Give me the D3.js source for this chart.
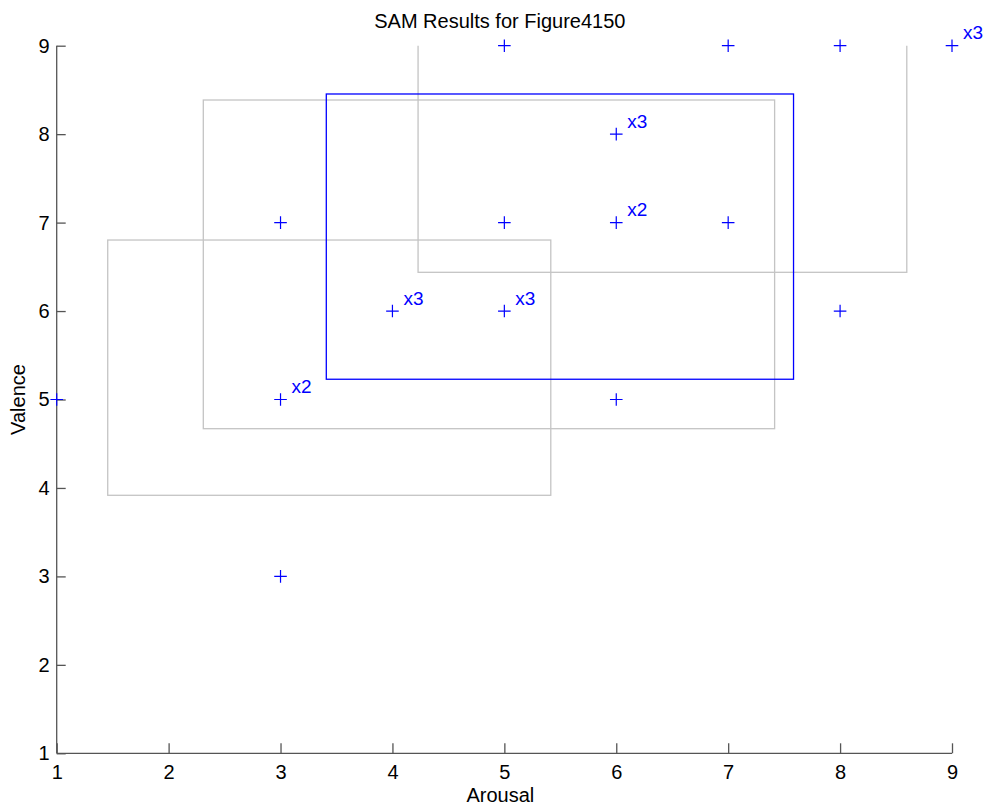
<!DOCTYPE html>
<html><head><meta charset="utf-8">
<script src="https://cdn.jsdelivr.net/npm/d3@7"></script>
<style>body{margin:0;background:#fff}svg{display:block}text{font-family:"Liberation Sans",Arial,sans-serif}</style>
</head><body>
<script>
const title = "SAM Results for Figure4150";
const xLabel = "Arousal";
const yLabel = "Valence";
const ticks = [1,2,3,4,5,6,7,8,9];
// points: arousal, valence, count
const ptArousal = [1,3,3,3,4,5,5,5,6,6,6,7,7,8,8,9];
const ptValence = [5,7,5,3,6,9,7,6,8,7,5,9,7,9,6,9];
const ptCount   = [1,1,2,1,3,1,1,3,3,2,1,1,1,1,1,3];
// rectangles: [x0, x1, y0, y1]
const grayRects = [
  [1.456, 5.415, 3.917, 6.803],
  [2.310, 7.415, 4.670, 8.386],
  [4.229, 8.596, 6.438, 10.4]
];
const blueRect = [3.409, 7.584, 5.229, 8.454];

const W = 990, H = 812;
const m = {left:56.7, right:W-952, top:45.7, bottom:H-753.3};
const svg = d3.select("body").append("svg").attr("width",W).attr("height",H);
const x = d3.scaleLinear().domain([1,9]).range([m.left, W-m.right]);
const y = d3.scaleLinear().domain([1,9]).range([H-m.bottom, m.top]);

svg.append("defs").append("clipPath").attr("id","clip").append("rect")
  .attr("x",x(1)).attr("y",y(9)).attr("width",x(9)-x(1)).attr("height",y(1)-y(9));

const g = svg.append("g").attr("clip-path","url(#clip)");
g.selectAll("rect.gray").data(grayRects).join("rect").attr("class","gray")
  .attr("x",d=>x(d[0])).attr("y",d=>y(d[3])).attr("width",d=>x(d[1])-x(d[0])).attr("height",d=>y(d[2])-y(d[3]))
  .attr("fill","none").attr("stroke","#c4c4c4").attr("stroke-width",1.3);
g.append("rect")
  .attr("x",x(blueRect[0])).attr("y",y(blueRect[3])).attr("width",x(blueRect[1])-x(blueRect[0])).attr("height",y(blueRect[2])-y(blueRect[3]))
  .attr("fill","none").attr("stroke","#0000ff").attr("stroke-width",1.3);

// axes
const xAxis = d3.axisBottom(x).tickValues(ticks).tickSize(-10).tickPadding(12).tickFormat(d3.format("d"));
const yAxis = d3.axisLeft(y).tickValues(ticks).tickSize(-9).tickPadding(7).tickFormat(d3.format("d"));
const gx = svg.append("g").attr("transform",`translate(0,${y(1)})`).call(xAxis);
const gy = svg.append("g").attr("transform",`translate(${x(1)},0)`).call(yAxis);
[gx,gy].forEach(a=>{
  a.select(".domain").attr("stroke","#555").attr("stroke-width",1.3).attr("d", a===gx ? `M${x(1)},0H${x(9)}` : `M0,${y(1)}V${y(9)}`);
  a.selectAll(".tick line").attr("stroke","#555").attr("stroke-width",1.3);
  a.selectAll(".tick text").attr("fill","#000").attr("font-size",20).attr("font-family","Liberation Sans, Arial, sans-serif");
});

// points
const pts = ptArousal.map((a,i)=>({a, v:ptValence[i], c:ptCount[i]}));
const s = 6.3;
svg.selectAll("path.pt").data(pts).join("path").attr("class","pt")
  .attr("d",d=>`M${x(d.a)-s},${y(d.v)}H${x(d.a)+s}M${x(d.a)},${y(d.v)-s}V${y(d.v)+s}`)
  .attr("stroke","#0000ff").attr("stroke-width",1.2).attr("fill","none");
svg.selectAll("text.cnt").data(pts.filter(d=>d.c>1)).join("text").attr("class","cnt")
  .attr("x",d=>x(d.a)+11).attr("y",d=>y(d.v)-6.5)
  .attr("fill","#0000ff").attr("font-size",19).text(d=>"x"+d.c);

// titles
svg.append("text").attr("x",(x(1)+x(9))/2 - 4.5).attr("y",28).attr("text-anchor","middle").attr("font-size",20).text(title);
svg.append("text").attr("x",(x(1)+x(9))/2 - 4).attr("y",802).attr("text-anchor","middle").attr("font-size",20).text(xLabel);
svg.append("text").attr("transform",`translate(25,${(y(1)+y(9))/2}) rotate(-90)`).attr("text-anchor","middle").attr("font-size",20).text(yLabel);
</script>
</body></html>
